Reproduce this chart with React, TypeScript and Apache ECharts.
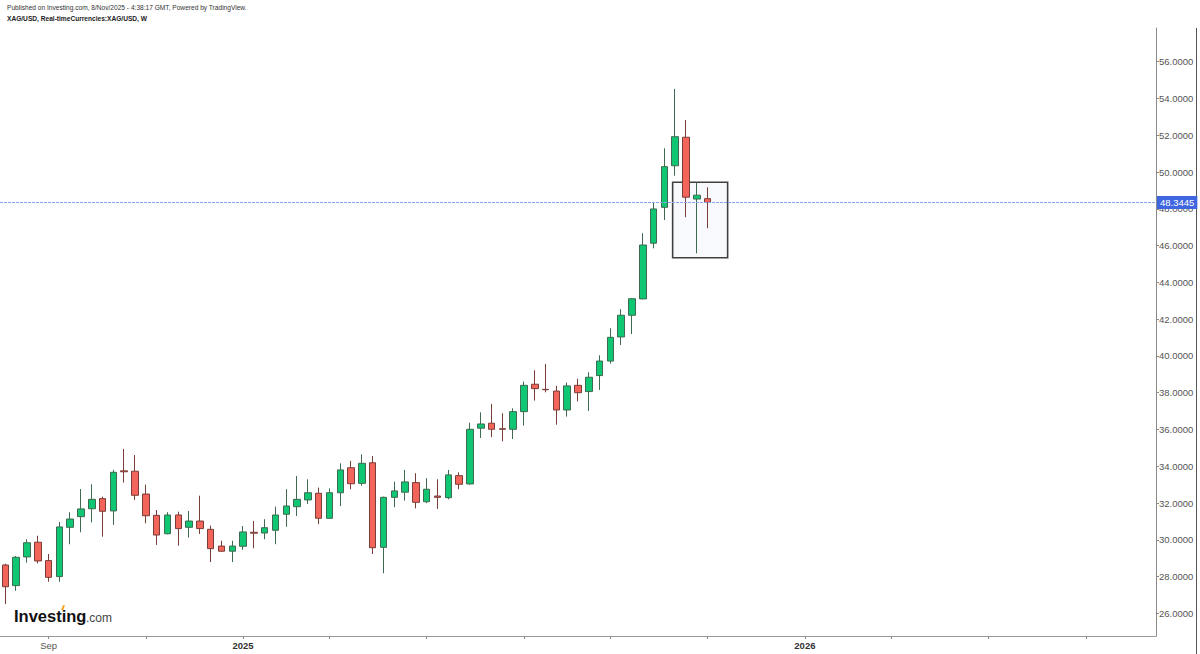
import React, { useEffect, useRef } from "react";
import * as echarts from "echarts";

// ---- data (weekly XAG/USD candles, first week = 2024-08-05) ----
const firstWeek = "2024-08-05";
const slotCount = 107;
const opens = [
  28.63, 27.51, 29.07, 29.87, 28.87, 28.0, 30.68, 31.26, 31.69, 32.24, 31.57, 33.75, 33.73, 32.49, 31.33, 30.33, 31.35, 30.68, 31.02, 30.57, 29.66, 29.38,
  29.65, 30.41, 30.37, 30.52, 31.39, 31.8, 32.17, 32.53, 31.17, 32.56, 33.92, 33.07, 34.19, 29.59, 32.31, 32.59, 33.11, 32.07, 32.38, 32.29, 33.49, 33.04,
  36.07, 36.34, 36.04, 36.01, 36.97, 38.46, 38.18, 38.09, 37.06, 38.4, 38.06, 38.93, 39.72, 41.03, 42.21, 43.1, 46.13, 48.08, 50.34, 51.89, 48.53, 48.55,
];
const closes = [
  27.45, 29.05, 29.84, 28.85, 27.96, 30.7, 31.13, 31.68, 32.2, 31.55, 33.67, 33.7, 32.42, 31.31, 30.26, 31.35, 30.61, 31.02, 30.61, 29.52, 29.38, 29.66,
  30.43, 30.36, 30.66, 31.35, 31.84, 32.2, 32.56, 31.17, 32.56, 33.8, 33.05, 34.16, 29.57, 32.31, 32.66, 33.15, 32.04, 32.75, 32.31, 33.53, 33.02, 36.01,
  36.3, 36.01, 36.01, 36.97, 38.4, 38.22, 38.16, 37.06, 38.37, 38.0, 38.84, 39.72, 41.01, 42.21, 43.11, 46.03, 47.99, 50.29, 51.92, 48.63, 48.74, 48.3445,
];
const lows = [
  26.51, 27.23, 28.76, 28.72, 27.72, 27.72, 29.76, 30.41, 30.95, 30.17, 30.81, 33.11, 32.17, 30.9, 29.72, 30.3, 29.68, 30.12, 30.32, 28.79, 29.35, 28.79,
  29.46, 29.54, 30.03, 29.76, 30.71, 31.3, 31.95, 30.85, 31.15, 31.84, 32.75, 32.94, 29.23, 28.18, 31.77, 32.13, 31.71, 31.99, 31.68, 32.2, 32.75, 33.0,
  35.54, 35.58, 35.36, 35.48, 36.21, 37.57, 38.02, 36.26, 36.7, 37.53, 37.01, 38.15, 39.58, 40.59, 41.19, 43.08, 45.85, 47.39, 49.8, 47.54, 45.58, 46.94,
];
const highs = [
  28.7, 29.12, 30.03, 30.22, 29.23, 30.97, 31.5, 32.76, 33.02, 32.35, 33.8, 34.94, 34.61, 33.0, 31.62, 31.5, 31.53, 31.57, 32.4, 30.77, 29.95, 29.95,
  30.75, 31.02, 31.12, 31.8, 32.75, 33.47, 33.29, 32.84, 32.8, 34.16, 34.29, 34.65, 34.56, 32.35, 33.16, 33.8, 33.62, 33.35, 33.29, 33.8, 33.67, 36.37,
  36.93, 37.39, 36.88, 37.15, 38.6, 39.22, 39.56, 38.37, 38.55, 38.76, 39.11, 40.03, 41.5, 42.54, 43.15, 46.67, 48.37, 51.29, 54.52, 52.83, 49.42, 49.17,
];
const lastPrice = 48.3445;
const tickDates = [
  "2024-09-02", "2024-11-04", "2025-01-06", "2025-03-03", "2025-05-05", "2025-07-07",
  "2025-09-01", "2025-11-03", "2026-01-05", "2026-03-02", "2026-05-04", "2026-07-06",
];
const tickLabels: Record<string, string> = {
  "2024-09-02": "Sep",
  "2025-01-06": "2025",
  "2026-01-05": "2026",
};
const yTicks = [26, 28, 30, 32, 34, 36, 38, 40, 42, 44, 46, 48, 50, 52, 54, 56];
// highlighted box: [startSlot, top price, endSlot, bottom price]
const boxRect = [61.76, 49.44, 66.85, 45.34];

function buildWeeks(): string[] {
  const out: string[] = [];
  const d0 = new Date(firstWeek + "T00:00:00Z");
  for (let i = 0; i < slotCount; i++) {
    const d = new Date(d0.getTime() + i * 7 * 86400000);
    out.push(d.toISOString().slice(0, 10));
  }
  return out;
}

export default function App() {
  const ref = useRef<HTMLDivElement>(null);
  useEffect(() => {
    if (!ref.current) return;
    const chart = echarts.init(ref.current, undefined, { renderer: "svg" });
    const weeks = buildWeeks();
    const candles = opens.map((o, i) => [o, closes[i], lows[i], highs[i]]);
    const tickSet = new Set(tickDates);
    const font = "'Liberation Sans', Arial, sans-serif";
    chart.setOption({
      animation: false,
      backgroundColor: "#ffffff",
      textStyle: { fontFamily: font },
      grid: { left: 0, top: 28, width: 1156, height: 608, containLabel: false },
      xAxis: [
        {
          type: "category",
          data: weeks,
          boundaryGap: true,
          axisLine: { show: true, onZero: false, lineStyle: { color: "#9a9a9a", width: 1 } },
          axisTick: {
            show: true,
            alignWithLabel: true,
            length: 3,
            interval: (idx: number, val: string) => tickSet.has(val),
            lineStyle: { color: "#8a8a8a" },
          },
          axisLabel: {
            interval: (idx: number, val: string) => !!tickLabels[val],
            formatter: (val: string) => {
              const t = tickLabels[val];
              if (!t) return "";
              return /^\d+$/.test(t) ? "{b|" + t + "}" : "{n|" + t + "}";
            },
            margin: 4,
            rich: {
              b: { fontSize: 9.5, fontWeight: "bold", color: "#333", fontFamily: font },
              n: { fontSize: 9.5, color: "#555", fontFamily: font },
            },
          },
          splitLine: { show: false },
        },
        {
          type: "value",
          min: -0.5,
          max: slotCount - 0.5,
          show: false,
          axisLine: { onZero: false },
        },
      ],
      yAxis: {
        type: "value",
        position: "right",
        min: 24.77,
        max: 57.83,
        axisLine: { show: true, onZero: false, lineStyle: { color: "#8a8a8a", width: 1 } },
        axisTick: { show: true, length: 3, customValues: yTicks, lineStyle: { color: "#8a8a8a" } },
        axisLabel: {
          customValues: yTicks,
          formatter: (v: number) => v.toFixed(4),
          fontSize: 9.5,
          color: "#555",
          margin: 3,
          fontFamily: font,
        },
        splitLine: { show: false },
      },
      series: [
        {
          type: "custom",
          xAxisIndex: 1,
          yAxisIndex: 0,
          z: 1,
          silent: true,
          data: [boxRect],
          renderItem: (params: any, api: any) => {
            const p0 = api.coord([api.value(0), api.value(1)]);
            const p1 = api.coord([api.value(2), api.value(3)]);
            return {
              type: "rect",
              shape: { x: p0[0], y: p0[1], width: p1[0] - p0[0], height: p1[1] - p0[1] },
              style: { fill: "#f7f9fc", stroke: "#404040", lineWidth: 1.6 },
            };
          },
        },
        {
          type: "candlestick",
          xAxisIndex: 0,
          yAxisIndex: 0,
          z: 3,
          barWidth: 7,
          data: candles,
          itemStyle: {
            color: "#0fc672",
            color0: "#f3655b",
            borderColor: "#3d6a50",
            borderColor0: "#7a3c37",
            borderWidth: 1,
          },
          markLine: {
            silent: true,
            symbol: "none",
            data: [{ yAxis: lastPrice }],
            lineStyle: { color: "#8aa6f2", width: 1, type: [3, 1] },
            label: {
              show: true,
              position: "end",
              distance: 1,
              formatter: lastPrice.toFixed(4),
              backgroundColor: "#3f66e0",
              color: "#ffffff",
              fontSize: 9.5,
              padding: [2, 3, 1, 3],
              fontFamily: font,
            },
          },
        },
      ],
      graphic: [
        {
          type: "line",
          silent: true,
          shape: { x1: 1196.5, y1: 28, x2: 1196.5, y2: 654 },
          style: { stroke: "#555", lineWidth: 1 },
        },
        {
          type: "text",
          left: 7,
          top: 4,
          style: {
            text: "Published on Investing.com, 8/Nov/2025 - 4:38:17 GMT, Powered by TradingView.",
            fontSize: 6.6,
            fill: "#333",
            fontFamily: font,
          },
        },
        {
          type: "text",
          left: 7,
          top: 15,
          style: {
            text: "XAG/USD, Real-timeCurrencies:XAG/USD, W",
            fontSize: 6.6,
            fontWeight: "bold",
            fill: "#222",
            fontFamily: font,
          },
        },
        {
          type: "text",
          x: 14,
          y: 624,
          style: {
            text: "Investing",
            fontSize: 16.5,
            fontWeight: "bold",
            fill: "#111",
            fontFamily: font,
            verticalAlign: "bottom",
          },
        },
        {
          type: "text",
          x: 86,
          y: 624,
          style: {
            text: ".com",
            fontSize: 12,
            fill: "#444",
            fontFamily: font,
            verticalAlign: "bottom",
          },
        },
        {
          type: "polygon",
          silent: true,
          shape: { points: [[61, 610], [63, 605], [65, 605.5], [63, 610.5]] },
          style: { fill: "#f5a623" },
        },
      ],
    });
    return () => chart.dispose();
  }, []);
  return (
    <div
      ref={ref}
      style={{ position: "fixed", left: 0, top: 0, width: 1200, height: 654, background: "#fff" }}
    />
  );
}
